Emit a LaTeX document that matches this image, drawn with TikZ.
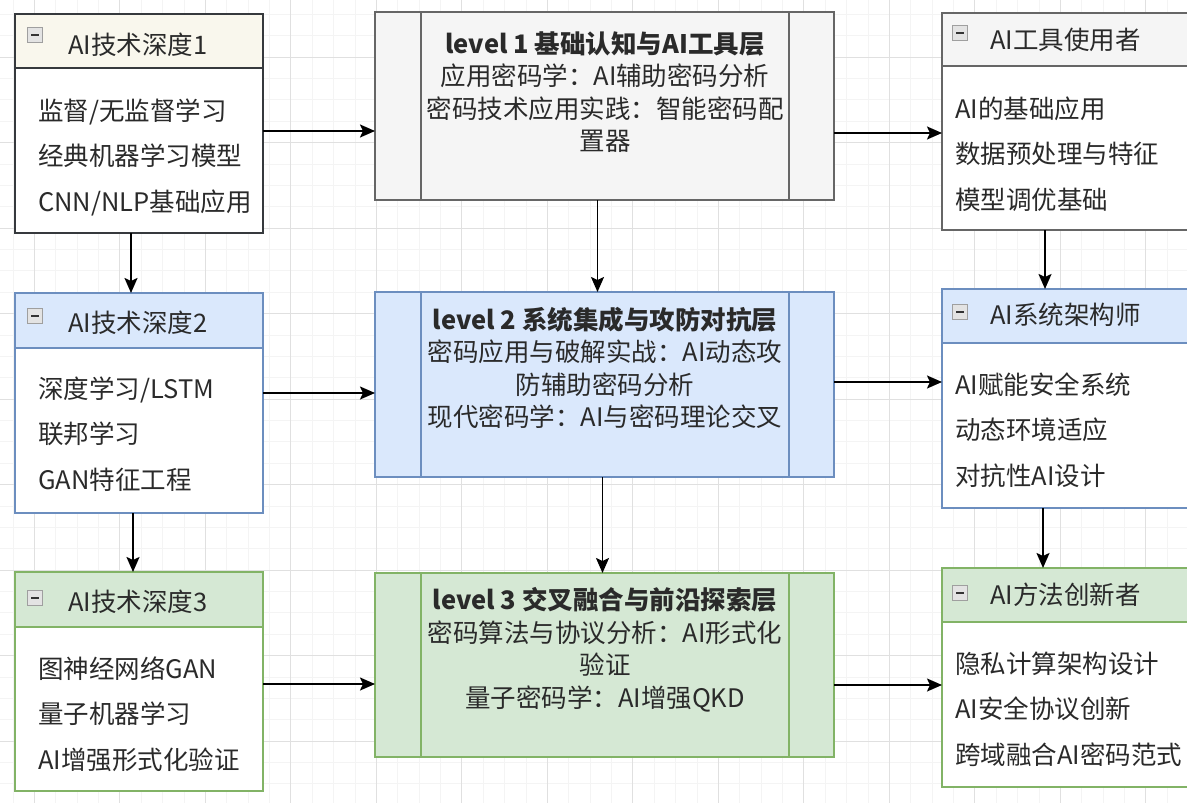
\documentclass[tikz,border=0pt]{standalone}
\usepackage{fontspec}
\setmainfont{Noto Sans CJK SC}
\usetikzlibrary{arrows.meta}
\definecolor{beigeF}{HTML}{F9F7ED}
\definecolor{beigeD}{HTML}{36393D}
\definecolor{grayF}{HTML}{F5F5F5}
\definecolor{grayD}{HTML}{666666}
\definecolor{blueF}{HTML}{DAE8FC}
\definecolor{blueD}{HTML}{6C8EBF}
\definecolor{greenF}{HTML}{D5E8D4}
\definecolor{greenD}{HTML}{82B366}
\definecolor{txt}{HTML}{2A2A2A}
\begin{document}
\begin{tikzpicture}[x=1pt,y=-1pt,
  box/.style={draw, line width=1.2pt, inner sep=0pt, outer sep=0pt, fill=white},
  hdr/.style={line width=1.2pt},
  icon/.style={draw=gray!75, fill=gray!22, line width=0.8pt, minimum size=15pt, inner sep=0pt,
    path picture={\draw[line width=1.6pt, black!80] ([xshift=-4pt]path picture bounding box.center) -- ([xshift=4pt]path picture bounding box.center);}},
  htext/.style={anchor=west, inner sep=0pt, text=txt, font=\fontsize{25.5}{28}\selectfont},
  btext/.style={anchor=west, inner sep=0pt, text=txt, align=left, font=\fontsize{25.5}{45.5}\selectfont},
  mtext/.style={inner sep=0pt, text=txt, align=center, font=\fontsize{25.5}{32.5}\selectfont},
  arr/.style={line width=1.9pt, -{Stealth[length=15pt,width=13pt,inset=3pt]}},
  minorg/.style={gray!9, line width=0.6pt},
  majorg/.style={gray!24, line width=0.8pt}]
\useasboundingbox (0,0) rectangle (1187,803);
\clip (0,0) rectangle (1187,803);
\fill[white] (0,0) rectangle (1187,803);
% grid
\foreach \i in {0,...,56} {\draw[minorg] ({12.8+21.375*\i},0) -- ++(0,803);}
\foreach \i in {0,...,38} {\draw[minorg] (0,{14.25+21.375*\i}) -- ++(1187,0);}
\foreach \i in {0,...,14} {\draw[majorg] ({34.2+85.5*\i},0) -- ++(0,803);}
\foreach \i in {0,...,9} {\draw[majorg] (0,{57+85.5*\i}) -- ++(1187,0);}

% ---------- left column ----------
\node[box, draw=beigeD, minimum width=248, minimum height=219] (L1) at (139,123.5) {};
\draw[hdr, fill=beigeF, draw=beigeD] (L1.north west) rectangle (L1.east |- 0,68);
\node[icon] (L1i) at (35,35) {};
\node[htext] (L1h) at (68,45) {AI技术深度1};
\node[btext] (L1b) at (38,157) {监督/无监督学习\\经典机器学习模型\\CNN/NLP基础应用};

\node[box, draw=blueD, minimum width=248, minimum height=220] (L2) at (139,403) {};
\draw[hdr, fill=blueF, draw=blueD] (L2.north west) rectangle (L2.east |- 0,348);
\node[icon] (L2i) at (35,316) {};
\node[htext] (L2h) at (68,323) {AI技术深度2};
\node[btext] (L2b) at (38,434) {深度学习/LSTM\\联邦学习\\GAN特征工程};

\node[box, draw=greenD, minimum width=248, minimum height=219] (L3) at (139,681.5) {};
\draw[hdr, fill=greenF, draw=greenD] (L3.north west) rectangle (L3.east |- 0,627);
\node[icon] (L3i) at (35,598) {};
\node[htext] (L3h) at (68,602) {AI技术深度3};
\node[btext] (L3b) at (38,714) {图神经网络GAN\\量子机器学习\\AI增强形式化验证};

% ---------- middle column ----------
\node[box, fill=grayF, draw=grayD, minimum width=459, minimum height=188] (M1) at (604.5,106) {};
\draw[hdr, draw=grayD] ([xshift=46pt]M1.north west) -- ([xshift=46pt]M1.south west)
  ([xshift=-45pt]M1.north east) -- ([xshift=-45pt]M1.south east);
\node[mtext] (M1t) at (605,92) {\textbf{level 1 基础认知与AI工具层}\\应用密码学：AI辅助密码分析\\密码技术应用实践：智能密码配\\置器};

\node[box, fill=blueF, draw=blueD, minimum width=459, minimum height=185] (M2) at (604.5,384.5) {};
\draw[hdr, draw=blueD] ([xshift=46pt]M2.north west) -- ([xshift=46pt]M2.south west)
  ([xshift=-45pt]M2.north east) -- ([xshift=-45pt]M2.south east);
\node[mtext] (M2t) at (605,368) {\textbf{level 2 系统集成与攻防对抗层}\\密码应用与破解实战：AI动态攻\\防辅助密码分析\\现代密码学：AI与密码理论交叉};

\node[box, fill=greenF, draw=greenD, minimum width=459, minimum height=184] (M3) at (604.5,665) {};
\draw[hdr, draw=greenD] ([xshift=46pt]M3.north west) -- ([xshift=46pt]M3.south west)
  ([xshift=-45pt]M3.north east) -- ([xshift=-45pt]M3.south east);
\node[mtext] (M3t) at (605,650) {\textbf{level 3 交叉融合与前沿探索层}\\密码算法与协议分析：AI形式化\\验证\\量子密码学：AI增强QKD};

% ---------- right column ----------
\node[box, draw=grayD, minimum width=260, minimum height=217] (R1) at (1072,121.5) {};
\draw[hdr, fill=grayF, draw=grayD] (R1.north west) rectangle (R1.east |- 0,66);
\node[icon] (R1i) at (960,33) {};
\node[htext] (R1h) at (990,40) {AI工具使用者};
\node[btext] (R1b) at (955,154) {AI的基础应用\\数据预处理与特征\\模型调优基础};

\node[box, draw=blueD, minimum width=260, minimum height=219] (R2) at (1072,398.5) {};
\draw[hdr, fill=blueF, draw=blueD] (R2.north west) rectangle (R2.east |- 0,343);
\node[icon] (R2i) at (960,312) {};
\node[htext] (R2h) at (990,315) {AI系统架构师};
\node[btext] (R2b) at (955,430) {AI赋能安全系统\\动态环境适应\\对抗性AI设计};

\node[box, draw=greenD, minimum width=260, minimum height=219] (R3) at (1072,677.5) {};
\draw[hdr, fill=greenF, draw=greenD] (R3.north west) rectangle (R3.east |- 0,622);
\node[icon] (R3i) at (960,593) {};
\node[htext] (R3h) at (990,595) {AI方法创新者};
\node[btext] (R3b) at (955,709) {隐私计算架构设计\\AI安全协议创新\\跨域融合AI密码范式};

% ---------- connectors ----------
\draw[arr] (L1.east |- 0,131) -- (M1.west |- 0,131);
\draw[arr] (L2.east |- 0,393) -- (M2.west |- 0,393);
\draw[arr] (L3.east |- 0,684) -- (M3.west |- 0,684);
\draw[arr] (M1.east |- 0,133) -- (R1.west |- 0,133);
\draw[arr] (M2.east |- 0,382) -- (R2.west |- 0,382);
\draw[arr] (M3.east |- 0,685) -- (R3.west |- 0,685);

\draw[arr] ([xshift=-8pt]L1.south) -- ([xshift=-8pt]L2.north);
\draw[arr] ([xshift=-6pt]L2.south) -- ([xshift=-6pt]L3.north);
\draw[arr] ([xshift=-7pt]M1.south) -- ([xshift=-7pt]M2.north);
\draw[arr] ([xshift=-2pt]M2.south) -- ([xshift=-2pt]M3.north);
\draw[arr] ([xshift=-27pt]R1.south) -- ([xshift=-27pt]R2.north);
\draw[arr] ([xshift=-29pt]R2.south) -- ([xshift=-29pt]R3.north);
\end{tikzpicture}
\end{document}
